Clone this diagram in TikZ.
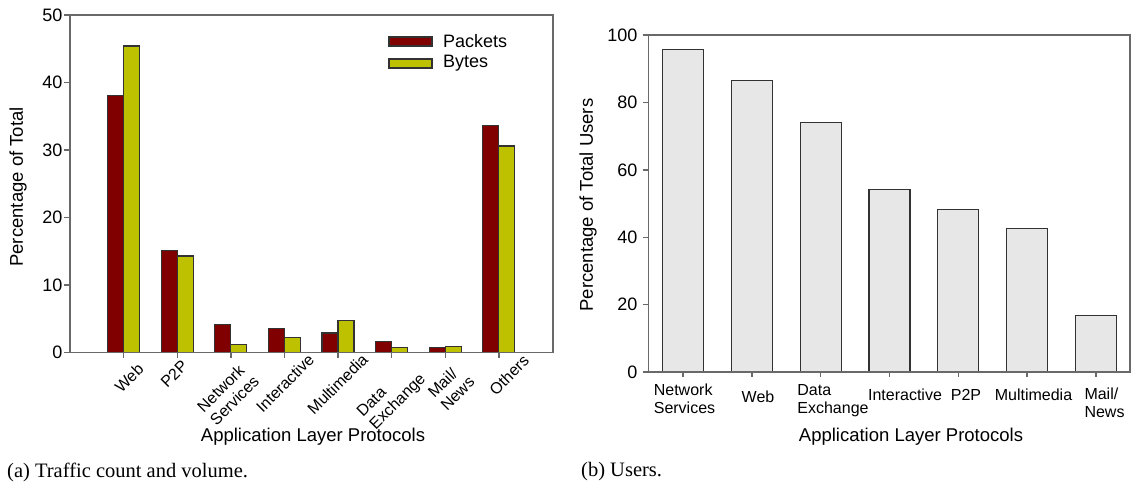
\documentclass[tikz,border=0pt]{standalone}
\usepackage{fontspec}
\setmainfont{Liberation Sans}
\newfontfamily\capfont{Liberation Serif}
\usetikzlibrary{positioning}

\definecolor{pktred}{RGB}{128,0,0}
\definecolor{bytegreen}{RGB}{190,193,0}
\definecolor{usergray}{RGB}{231,231,231}
\definecolor{axisgray}{RGB}{105,105,105}
\definecolor{baredge}{RGB}{50,50,50}

\begin{document}
\begin{tikzpicture}[x=1pt,y=-1pt]
        \tikzset{bar/.style = {draw=baredge, line width=1.2pt}}
        \tikzset{axis/.style = {draw=axisgray, line width=1.4pt}}
        \tikzset{ticklabel/.style = {font=\fontsize{18}{20}\selectfont, inner sep=0pt, anchor=east}}
        \tikzset{catlabel/.style = {font=\fontsize{16}{18}\selectfont, inner sep=0pt, align=left}}
        \tikzset{axtitle/.style = {font=\fontsize{18.5}{22}\selectfont, inner sep=0pt}}
        \tikzset{caption/.style = {font=\capfont\fontsize{20.5}{24}\selectfont, inner sep=0pt, anchor=west}}

        \useasboundingbox (0,0) rectangle (1131,485);

        % (a) bars
        \foreach \k/\p/\b in {1/38.1/45.4, 2/15.1/14.3, 3/4.2/1.2, 4/3.6/2.2,
                               5/2.9/4.7, 6/1.6/0.7, 7/0.8/0.9, 8/33.6/30.6}{
            \pgfmathsetmacro\xc{70+53.6*\k}
            \draw[bar, fill=pktred] (\xc-16,352.5) rectangle (\xc,352.5-6.75*\p);
            \draw[bar, fill=bytegreen] (\xc,352.5) rectangle (\xc+16,352.5-6.75*\b);
            \draw[axis] (\xc,352.5) -- ++(0,5);
        }

        % (a) frame and y ticks
        \draw[axis] (70,15) rectangle (553,352.5);
        \foreach \v in {0,10,...,50}{
            \draw[axis] (64,352.5-6.75*\v) -- (70,352.5-6.75*\v);
            \node[ticklabel] (ya\v) at (62.5,352.5-6.75*\v) {\v};
        }

        % (a) category labels
        \foreach \n/\t/\cx/\cy in {web/{Web}/129/378, ptp/{P2P}/174/374,
                                    net/{Network\\Services}/228/394, inter/{Interactive}/285/383,
                                    multi/{Multimedia}/337.5/384, data/{Data\\Exchange}/392/396,
                                    mail/{Mail/\\News}/451/387, oth/{Others}/509/375}
            \node[catlabel, rotate=45] (a-\n) at (\cx,\cy) {\t};

        % (a) legend
        \draw[bar, fill=pktred] (389,37) rectangle (432,46);
        \draw[bar, fill=bytegreen] (389,59) rectangle (432,68);
        \node[axtitle, anchor=west, font=\fontsize{18}{20}\selectfont] (pkt) at (443,41.5) {Packets};
        \node[axtitle, anchor=west, font=\fontsize{18}{20}\selectfont] (byt) at (443,63.5) {Bytes};

        % (a) titles
        \node[axtitle] (xa) at (313,437) {Application Layer Protocols};
        \node[axtitle, rotate=90] (ya) at (18,187) {Percentage of Total};
        \node[caption] (capa) at (7,472) {(a) Traffic count and volume.};

        % (b) bars
        \foreach \k/\u in {1/95.8, 2/86.6, 3/74.0, 4/54.2, 5/48.3, 6/42.5, 7/16.8}{
            \pgfmathsetmacro\xc{648.6+68.8*(\k-0.5)}
            \draw[bar, fill=usergray] (\xc-20.5,372) rectangle (\xc+20.5,372-3.37*\u);
            \draw[axis] (\xc,372) -- ++(0,5);
        }

        % (b) frame and y ticks
        \draw[axis] (648.6,35) rectangle (1129.8,372);
        \foreach \v in {0,20,...,100}{
            \draw[axis] (642.6,372-3.37*\v) -- (648.6,372-3.37*\v);
            \node[ticklabel] (yb\v) at (637.5,372-3.37*\v) {\v};
        }

        % (b) category labels
        \foreach \n/\t/\cx/\cy in {net/{Network\\Services}/684.5/399, web/{Web}/758/397,
                                    data/{Data\\Exchange}/833/401, inter/{Interactive}/905/395,
                                    ptp/{P2P}/966/395, multi/{Multimedia}/1033.5/395,
                                    mail/{Mail/\\News}/1104.5/402.5}
            \node[catlabel] (b-\n) at (\cx,\cy) {\t};

        % (b) titles
        \node[axtitle] (xb) at (911,437) {Application Layer Protocols};
        \node[axtitle, rotate=90] (yb) at (588,205) {Percentage of Total Users};
        \node[caption] (capb) at (581,472) {(b) Users.};

    \end{tikzpicture}
\end{document}
